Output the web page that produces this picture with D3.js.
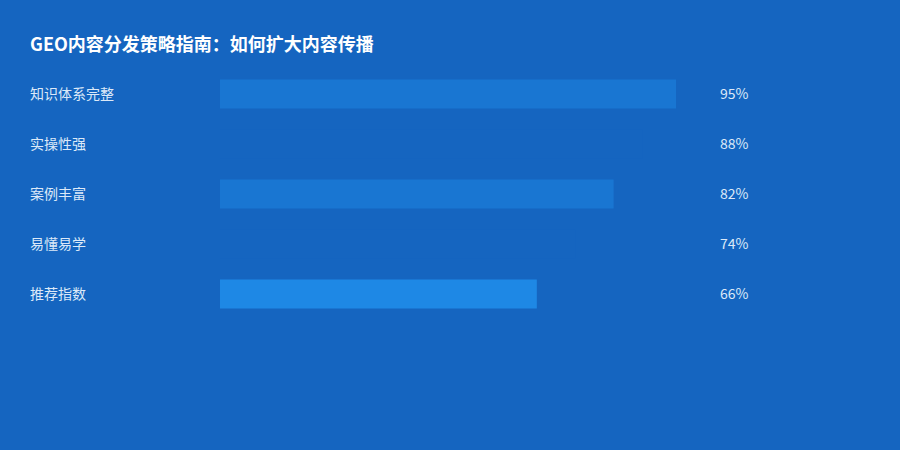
<!DOCTYPE html>
<html>
<head>
<meta charset="utf-8">
<script src="https://cdn.jsdelivr.net/npm/d3@7"></script>
<style>
  html, body { margin: 0; padding: 0; background: #1565C0; }
  svg { display: block; font-family: "Noto Sans CJK SC", "Noto Sans", sans-serif; }
</style>
</head>
<body>
<div id="chart"></div>
<script>
const title = 'GEO内容分发策略指南：如何扩大内容传播';
const categories = ['知识体系完整', '实操性强', '案例丰富', '易懂易学', '推荐指数'];
const values = [95, 88, 82, 74, 66];
const barColors = ['#1976D2', '#1565C0', '#1976D2', '#1565C0', '#1E88E5'];

const width = 900;
const height = 450;

const x = d3.scaleLinear()
    .domain([0, 100])
    .range([220, 700]);

const y = d3.scaleBand()
    .domain(categories)
    .range([69, 319])
    .paddingInner(0.42)
    .paddingOuter(0.21);

const svg = d3.select('#chart')
    .append('svg')
    .attr('width', width)
    .attr('height', height);

svg.append('rect')
    .attr('width', width)
    .attr('height', height)
    .attr('fill', '#1565C0');

svg.append('text')
    .attr('x', 30)
    .attr('y', 51)
    .attr('fill', '#ffffff')
    .attr('font-size', 18)
    .attr('font-weight', 'bold')
    .text(title);

const rows = svg.selectAll('g.row')
    .data(categories)
    .enter()
    .append('g')
    .attr('class', 'row');

rows.append('rect')
    .attr('x', x(0))
    .attr('y', d => y(d))
    .attr('width', (d, i) => x(values[i]) - x(0))
    .attr('height', y.bandwidth())
    .attr('fill', (d, i) => barColors[i]);

rows.append('text')
    .attr('x', 30)
    .attr('y', d => y(d) + y.bandwidth() / 2)
    .attr('dy', '0.35em')
    .attr('fill', '#DCE9F8')
    .attr('font-size', 14)
    .text(d => d);

rows.append('text')
    .attr('x', 720)
    .attr('y', d => y(d) + y.bandwidth() / 2)
    .attr('dy', '0.35em')
    .attr('fill', '#DCE9F8')
    .attr('font-size', 14)
    .text((d, i) => values[i] + '%');
</script>
</body>
</html>
